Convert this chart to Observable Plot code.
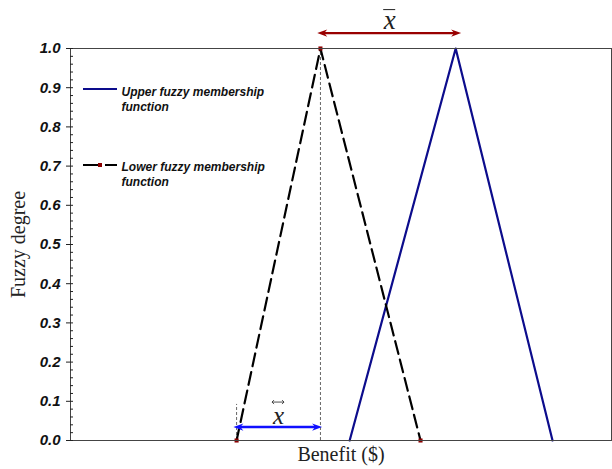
<!DOCTYPE html>
<html><head><meta charset="utf-8">
<script src="https://cdn.jsdelivr.net/npm/d3@7"></script>
<script src="https://cdn.jsdelivr.net/npm/@observablehq/plot@0.6"></script>
<style>
body{margin:0;background:#fff}
</style>
</head><body><div id="chart"></div>
<script>
// ---- data ----
const lowerX = [30.7, 46.2, 64.7];
const lowerY = [0, 1, 0];
const upperX = [51.6, 71.2, 89.1];
const upperY = [0, 1, 0];
const yTickValues = [0, 0.1, 0.2, 0.3, 0.4, 0.5, 0.6, 0.7, 0.8, 0.9, 1.0];
const yTickLabels = ["0.0","0.1","0.2","0.3","0.4","0.5","0.6","0.7","0.8","0.9","1.0"];
const yMinorValues = d3.range(0, 51).filter(i => i % 5 !== 0).map(i => i / 50);
const barArrow = {x1: 45.7, x2: 72.3, y: 1.038};
const spreadArrow = {x1: 30.2, x2: 46.6, y: 0.033};
const guides = [{x: 46.2, y1: 0, y2: 1}, {x: 30.7, y1: 0, y2: 0.092}];
const seriesNames = ["Upper fuzzy membership\nfunction", "Lower fuzzy membership\nfunction"];
const symbolText = "x";
const xLabel = "Benefit ($)";
const yLabel = "Fuzzy degree";

const lowerData = lowerX.map((x, i) => ({x, y: lowerY[i]}));
const upperData = upperX.map((x, i) => ({x, y: upperY[i]}));

const RED = "#8b0000", NAVY = "#0c0c8c", BLUE = "#1010ff";
const barMid = (barArrow.x1 + barArrow.x2) / 2;
const spreadMid = (lowerX[0] + lowerX[1]) / 2;

function doubleArrow(a, color, width) {
  return (index, scales) => {
    const X1 = scales.x(a.x1), X2 = scales.x(a.x2), Y = scales.y(a.y);
    const hl = 10, hw = 3.6;
    const g = d3.create("svg:g");
    g.append("line").attr("x1", X1 + 6).attr("x2", X2 - 6).attr("y1", Y).attr("y2", Y)
      .attr("stroke", color).attr("stroke-width", width);
    g.append("path").attr("fill", color)
      .attr("d", `M${X1},${Y}L${X1+hl},${Y-hw}L${X1+hl*0.7},${Y}L${X1+hl},${Y+hw}Z`);
    g.append("path").attr("fill", color)
      .attr("d", `M${X2},${Y}L${X2-hl},${Y-hw}L${X2-hl*0.7},${Y}L${X2-hl},${Y+hw}Z`);
    return g.node();
  };
}

// accents above the two "x" symbols
function accents(index, scales) {
  const g = d3.create("svg:g").attr("stroke", "#222").attr("fill", "none");
  const bx = scales.x(barMid), by = scales.y(barArrow.y);
  g.append("line").attr("x1", bx - 6).attr("x2", bx + 6).attr("y1", by - 23.5).attr("y2", by - 23.5).attr("stroke-width", 1);
  const sx = scales.x(spreadMid), sy = scales.y(spreadArrow.y);
  const ay = sy - 25;
  g.append("line").attr("x1", sx - 6).attr("x2", sx + 6).attr("y1", ay).attr("y2", ay).attr("stroke-width", 0.8);
  g.append("path").attr("stroke-width", 0.8).attr("d", `M${sx-4},${ay-2}L${sx-6},${ay}L${sx-4},${ay+2}M${sx+4},${ay-2}L${sx+6},${ay}L${sx+4},${ay+2}`);
  return g.node();
}

function legendSwatches(index, scales, values, dims) {
  const L = dims.marginLeft, T = dims.marginTop;
  const g = d3.create("svg:g");
  g.append("line").attr("x1", L + 13).attr("x2", L + 47).attr("y1", T + 41).attr("y2", T + 41)
    .attr("stroke", NAVY).attr("stroke-width", 2.2);
  g.append("line").attr("x1", L + 13).attr("x2", L + 47).attr("y1", T + 117).attr("y2", T + 117)
    .attr("stroke", "black").attr("stroke-width", 2.2).attr("stroke-dasharray", "15,7");
  g.append("rect").attr("x", L + 28).attr("y", T + 115).attr("width", 4).attr("height", 4).attr("fill", RED);
  return g.node();
}

const chart = Plot.plot({
  width: 612,
  height: 469,
  marginLeft: 70,
  marginRight: 1,
  marginTop: 48,
  marginBottom: 29,
  style: {fontFamily: "'Liberation Sans', Arial, sans-serif", background: "#fff", overflow: "visible"},
  x: {domain: [0, 100], axis: null},
  y: {domain: [0, 1], axis: null},
  marks: [
    Plot.ruleX(guides, {x: "x", y1: "y1", y2: "y2", stroke: "#666", strokeDasharray: "3,2", strokeWidth: 1}),
    Plot.line(upperData, {x: "x", y: "y", stroke: NAVY, strokeWidth: 2.2}),
    Plot.line(lowerData, {x: "x", y: "y", stroke: "black", strokeWidth: 2.2, strokeDasharray: "13,6"}),
    Plot.dot(lowerData, {x: "x", y: "y", symbol: "square", r: 2.3, fill: RED}),
    Plot.frame({stroke: "#444", strokeWidth: 1}),
    Plot.axisY(yMinorValues, {tickSize: 3, dx: 3, tickFormat: () => "", label: null, stroke: "#222"}),
    Plot.axisY(yTickValues, {tickSize: 7, dx: 3, tickPadding: 6, label: null, stroke: "#222",
      tickFormat: d => yTickLabels[yTickValues.indexOf(d)],
      fontSize: 15, fontWeight: "bold", fontStyle: "italic", fill: "#111"}),
    doubleArrow(barArrow, "#990000", 2.4),
    doubleArrow(spreadArrow, BLUE, 2.4),
    Plot.text([symbolText], {x: barMid, y: barArrow.y, dy: -5, lineAnchor: "bottom",
      fontFamily: "'Liberation Serif', serif", fontStyle: "italic", fontSize: 27, fill: "#222"}),
    Plot.text([symbolText], {x: spreadMid, y: spreadArrow.y, dy: -4, lineAnchor: "bottom",
      fontFamily: "'Liberation Serif', serif", fontStyle: "italic", fontSize: 25, fill: "#222"}),
    accents,
    legendSwatches,
    Plot.text([seriesNames[0]], {frameAnchor: "top-left", dx: 51, dy: 37.5, lineAnchor: "top", textAnchor: "start",
      fontSize: 12, fontWeight: "bold", fontStyle: "italic", lineHeight: 1.2, fill: "#111"}),
    Plot.text([seriesNames[1]], {frameAnchor: "top-left", dx: 51, dy: 112.5, lineAnchor: "top", textAnchor: "start",
      fontSize: 12, fontWeight: "bold", fontStyle: "italic", lineHeight: 1.2, fill: "#111"}),
    Plot.text([yLabel], {frameAnchor: "left", dx: -52, rotate: -90, textAnchor: "middle",
      fontFamily: "'Liberation Serif', serif", fontSize: 20, fill: "#222"}),
    Plot.text([xLabel], {frameAnchor: "bottom", dy: 20,
      fontFamily: "'Liberation Serif', serif", fontSize: 20, fill: "#222"})
  ]
});
document.getElementById("chart").appendChild(chart);
</script>
</body></html>
